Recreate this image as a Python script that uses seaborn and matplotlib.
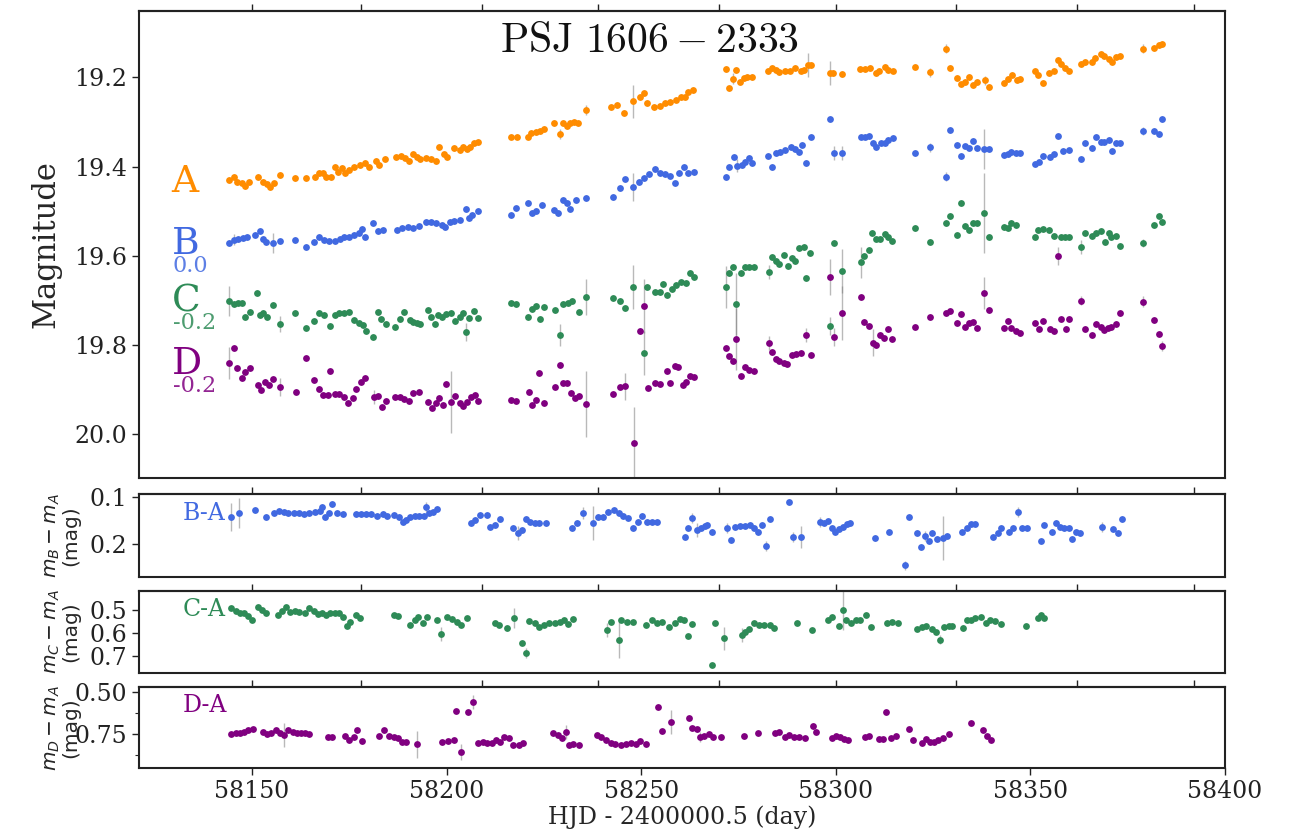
import numpy as np
import pandas as pd
import matplotlib
matplotlib.use('Agg')
import matplotlib.pyplot as plt
import seaborn as sns

# ---- light curves, (HJD - 2400000.5, magnitude) ----
A_OBS = [
    (58144.1, 19.430), (58145.4, 19.423), (58146.1, 19.434), (58147.4, 19.437), (58148.2, 19.443),
    (58149.2, 19.434), (58151.5, 19.423), (58152.8, 19.434), (58153.9, 19.439), (58154.6, 19.446),
    (58155.7, 19.437), (58157.2, 19.419), (58161.0, 19.425), (58163.9, 19.425), (58166.2, 19.423),
    (58167.2, 19.414), (58168.2, 19.414), (58169.0, 19.423), (58170.3, 19.423), (58171.3, 19.401),
    (58172.1, 19.412), (58173.1, 19.403), (58173.9, 19.414), (58174.9, 19.407), (58176.2, 19.401),
    (58177.7, 19.396), (58179.0, 19.392), (58180.1, 19.401), (58181.9, 19.387), (58182.6, 19.396),
    (58184.2, 19.383), (58187.0, 19.378), (58188.3, 19.376), (58189.3, 19.380), (58190.3, 19.387),
    (58191.4, 19.372), (58192.4, 19.378), (58193.2, 19.383), (58194.7, 19.380), (58196.0, 19.383),
    (58197.3, 19.387), (58198.0, 19.356), (58199.3, 19.372), (58200.1, 19.378), (58201.9, 19.358),
    (58203.4, 19.363), (58204.2, 19.356), (58205.2, 19.360), (58206.0, 19.356), (58207.0, 19.347),
    (58208.1, 19.345), (58216.5, 19.333), (58218.1, 19.333), (58220.9, 19.333), (58221.7, 19.324),
    (58223.0, 19.322), (58224.0, 19.320), (58225.0, 19.315), (58227.6, 19.302), (58229.1, 19.327),
    (58229.9, 19.302), (58230.9, 19.309), (58231.7, 19.302), (58232.7, 19.300), (58233.7, 19.302),
    (58235.8, 19.273), (58242.2, 19.266), (58243.8, 19.262), (58245.6, 19.280), (58247.9, 19.253),
    (58249.7, 19.244), (58250.7, 19.235), (58251.5, 19.257), (58253.3, 19.266), (58254.8, 19.264),
    (58256.1, 19.257), (58257.4, 19.255), (58258.9, 19.250), (58260.2, 19.244), (58261.2, 19.244),
    (58262.0, 19.233), (58263.3, 19.228), (58271.8, 19.181), (58272.5, 19.224), (58273.6, 19.203),
    (58274.3, 19.183), (58275.4, 19.210), (58276.4, 19.201), (58277.2, 19.199), (58278.5, 19.199),
    (58282.6, 19.185), (58283.6, 19.179), (58284.6, 19.183), (58285.4, 19.188), (58286.9, 19.185),
    (58288.2, 19.185), (58289.5, 19.179), (58291.0, 19.185), (58291.8, 19.183), (58292.8, 19.172),
    (58293.6, 19.172), (58298.5, 19.190), (58299.3, 19.190), (58301.6, 19.192), (58306.2, 19.181),
    (58307.5, 19.181), (58308.8, 19.179), (58310.3, 19.190), (58311.1, 19.185), (58312.6, 19.176),
    (58313.4, 19.183), (58314.7, 19.185), (58320.3, 19.176), (58324.2, 19.188), (58328.3, 19.136),
    (58329.3, 19.179), (58331.1, 19.201), (58332.1, 19.215), (58333.2, 19.210), (58334.2, 19.199),
    (58335.2, 19.217), (58336.3, 19.210), (58338.3, 19.206), (58339.3, 19.221), (58343.2, 19.212),
    (58344.2, 19.203), (58345.2, 19.194), (58346.5, 19.206), (58347.3, 19.203), (58351.2, 19.185),
    (58351.9, 19.194), (58353.2, 19.212), (58354.7, 19.190), (58356.0, 19.185), (58357.1, 19.161),
    (58357.8, 19.170), (58358.9, 19.179), (58359.9, 19.185), (58363.0, 19.170), (58364.0, 19.165),
    (58365.8, 19.165), (58366.6, 19.156), (58368.1, 19.147), (58368.9, 19.152), (58370.2, 19.159),
    (58370.9, 19.165), (58372.0, 19.154), (58373.0, 19.152), (58378.9, 19.136), (58381.7, 19.134),
    (58383.0, 19.127), (58383.8, 19.125),
]

B_OBS = [
    (58144.1, 19.571), (58145.4, 19.564), (58146.4, 19.562), (58147.7, 19.560), (58148.7, 19.558),
    (58150.8, 19.553), (58152.1, 19.544), (58152.8, 19.562), (58153.6, 19.569), (58155.4, 19.571),
    (58157.2, 19.567), (58161.0, 19.564), (58163.9, 19.580), (58165.9, 19.569), (58167.2, 19.558),
    (58168.5, 19.564), (58169.8, 19.567), (58171.3, 19.567), (58172.6, 19.562), (58173.6, 19.558),
    (58174.9, 19.558), (58176.2, 19.553), (58177.5, 19.549), (58178.3, 19.540), (58179.0, 19.558),
    (58181.1, 19.526), (58182.4, 19.544), (58183.7, 19.542), (58187.3, 19.542), (58188.5, 19.537),
    (58190.1, 19.535), (58191.4, 19.537), (58192.9, 19.533), (58194.7, 19.524), (58196.0, 19.524),
    (58197.3, 19.526), (58198.8, 19.531), (58199.6, 19.535), (58200.9, 19.524), (58201.9, 19.522),
    (58203.4, 19.519), (58205.0, 19.495), (58205.7, 19.515), (58206.5, 19.508), (58208.1, 19.499),
    (58216.5, 19.508), (58217.8, 19.493), (58220.9, 19.481), (58221.9, 19.504), (58223.0, 19.499),
    (58224.5, 19.486), (58227.6, 19.497), (58228.6, 19.504), (58229.9, 19.475), (58230.9, 19.481),
    (58231.7, 19.495), (58233.2, 19.475), (58235.8, 19.470), (58242.7, 19.468), (58244.5, 19.448),
    (58245.8, 19.428), (58247.9, 19.446), (58249.4, 19.434), (58250.7, 19.425), (58252.0, 19.416),
    (58253.5, 19.405), (58254.8, 19.414), (58256.1, 19.416), (58257.4, 19.421), (58258.7, 19.437),
    (58259.7, 19.414), (58261.0, 19.401), (58262.0, 19.414), (58263.6, 19.412), (58271.8, 19.423),
    (58272.5, 19.401), (58273.8, 19.378), (58274.6, 19.398), (58275.9, 19.396), (58276.7, 19.389),
    (58277.7, 19.380), (58278.5, 19.392), (58282.6, 19.376), (58283.6, 19.401), (58284.6, 19.369),
    (58285.6, 19.367), (58286.9, 19.363), (58288.5, 19.356), (58289.5, 19.360), (58290.5, 19.367),
    (58291.3, 19.351), (58292.3, 19.392), (58293.6, 19.333), (58298.5, 19.293), (58299.5, 19.369),
    (58301.6, 19.369), (58306.5, 19.333), (58307.5, 19.333), (58308.5, 19.331), (58309.5, 19.347),
    (58310.3, 19.356), (58311.6, 19.347), (58312.6, 19.347), (58313.4, 19.340), (58314.7, 19.336),
    (58320.3, 19.369), (58324.2, 19.356), (58328.3, 19.423), (58329.3, 19.318), (58331.1, 19.351),
    (58332.1, 19.376), (58333.2, 19.354), (58334.2, 19.358), (58335.2, 19.342), (58336.3, 19.358),
    (58338.1, 19.360), (58339.3, 19.360), (58343.2, 19.374), (58344.2, 19.372), (58345.0, 19.367),
    (58346.3, 19.369), (58347.3, 19.369), (58351.2, 19.394), (58352.2, 19.389), (58353.2, 19.376),
    (58355.0, 19.378), (58356.0, 19.372), (58357.1, 19.331), (58358.4, 19.365), (58359.9, 19.363),
    (58363.0, 19.383), (58364.0, 19.347), (58365.8, 19.358), (58366.8, 19.333), (58368.1, 19.345),
    (58368.9, 19.345), (58370.2, 19.340), (58370.9, 19.365), (58372.0, 19.347), (58373.0, 19.347),
    (58378.9, 19.320), (58381.7, 19.320), (58383.0, 19.327), (58383.8, 19.293),
]

# C and D are drawn with their -0.2 mag offset already applied, as in the figure
C_OBS = [
    (58144.1, 19.701), (58145.4, 19.708), (58146.4, 19.706), (58147.4, 19.706), (58148.2, 19.737),
    (58149.5, 19.726), (58151.3, 19.683), (58152.1, 19.733), (58152.8, 19.728), (58153.9, 19.737),
    (58155.4, 19.710), (58157.2, 19.753), (58161.0, 19.728), (58163.9, 19.762), (58165.9, 19.746),
    (58167.2, 19.728), (58168.5, 19.733), (58170.0, 19.757), (58171.3, 19.733), (58172.4, 19.728),
    (58173.6, 19.728), (58174.9, 19.726), (58176.2, 19.744), (58177.5, 19.750), (58178.5, 19.755),
    (58179.3, 19.768), (58181.1, 19.782), (58182.4, 19.726), (58183.1, 19.742), (58184.4, 19.753),
    (58186.7, 19.759), (58188.0, 19.742), (58189.0, 19.726), (58190.6, 19.744), (58191.4, 19.748),
    (58192.4, 19.750), (58193.2, 19.753), (58195.2, 19.721), (58196.0, 19.737), (58197.0, 19.753),
    (58197.8, 19.733), (58198.8, 19.737), (58199.8, 19.730), (58201.1, 19.728), (58202.2, 19.746),
    (58203.4, 19.737), (58204.2, 19.728), (58205.0, 19.771), (58205.7, 19.739), (58207.0, 19.724),
    (58208.1, 19.739), (58216.5, 19.706), (58217.8, 19.708), (58220.9, 19.737), (58221.9, 19.719),
    (58223.0, 19.712), (58224.0, 19.742), (58225.0, 19.715), (58227.8, 19.721), (58229.1, 19.777),
    (58229.9, 19.708), (58231.2, 19.706), (58232.2, 19.701), (58234.0, 19.726), (58235.8, 19.692),
    (58242.7, 19.694), (58244.5, 19.701), (58245.8, 19.717), (58247.9, 19.670), (58250.7, 19.818),
    (58251.5, 19.670), (58253.5, 19.681), (58254.8, 19.681), (58255.6, 19.663), (58256.6, 19.688),
    (58257.9, 19.674), (58258.9, 19.665), (58260.2, 19.659), (58261.5, 19.661), (58262.5, 19.638),
    (58263.6, 19.647), (58271.8, 19.670), (58272.5, 19.638), (58273.6, 19.625), (58274.3, 19.708),
    (58275.6, 19.638), (58276.7, 19.625), (58277.7, 19.625), (58279.0, 19.625), (58282.8, 19.636),
    (58283.6, 19.602), (58284.6, 19.611), (58285.4, 19.618), (58286.7, 19.598), (58287.7, 19.623),
    (58288.7, 19.605), (58289.5, 19.611), (58290.5, 19.582), (58291.8, 19.580), (58292.3, 19.650),
    (58293.4, 19.593), (58298.5, 19.757), (58299.5, 19.571), (58301.6, 19.634), (58306.5, 19.614),
    (58307.2, 19.600), (58308.5, 19.587), (58309.3, 19.549), (58310.3, 19.562), (58311.3, 19.562),
    (58312.6, 19.551), (58313.4, 19.558), (58314.4, 19.567), (58320.3, 19.537), (58324.2, 19.569),
    (58328.3, 19.526), (58329.3, 19.511), (58331.1, 19.553), (58332.1, 19.481), (58333.2, 19.533),
    (58334.2, 19.542), (58335.2, 19.526), (58336.3, 19.526), (58338.1, 19.504), (58339.3, 19.558),
    (58343.2, 19.535), (58344.2, 19.537), (58345.0, 19.526), (58346.3, 19.531), (58351.2, 19.558),
    (58351.9, 19.542), (58353.2, 19.540), (58354.7, 19.542), (58356.0, 19.555), (58357.8, 19.558),
    (58358.9, 19.558), (58359.9, 19.558), (58363.0, 19.580), (58364.0, 19.549), (58365.8, 19.555),
    (58366.8, 19.549), (58368.1, 19.544), (58369.1, 19.569), (58370.2, 19.549), (58370.7, 19.558),
    (58372.0, 19.555), (58373.0, 19.578), (58378.9, 19.571), (58381.7, 19.531), (58383.0, 19.511),
    (58383.8, 19.524),
]

D_OBS = [
    (58144.1, 19.840), (58145.4, 19.806), (58146.1, 19.851), (58147.4, 19.874), (58148.2, 19.860),
    (58149.5, 19.851), (58151.5, 19.889), (58152.3, 19.901), (58153.3, 19.883), (58154.4, 19.889),
    (58155.4, 19.876), (58157.2, 19.894), (58161.3, 19.905), (58163.9, 19.829), (58165.9, 19.878),
    (58167.2, 19.898), (58168.2, 19.912), (58169.5, 19.912), (58170.0, 19.858), (58171.3, 19.910),
    (58172.4, 19.910), (58173.6, 19.916), (58174.7, 19.930), (58175.9, 19.919), (58176.7, 19.898),
    (58178.0, 19.883), (58179.0, 19.874), (58181.3, 19.916), (58182.4, 19.914), (58183.4, 19.939),
    (58184.4, 19.925), (58186.7, 19.916), (58188.0, 19.916), (58189.0, 19.921), (58190.3, 19.925),
    (58191.4, 19.907), (58192.9, 19.905), (58195.2, 19.928), (58196.2, 19.941), (58197.3, 19.930),
    (58198.0, 19.919), (58199.1, 19.934), (58199.8, 19.887), (58201.1, 19.928), (58202.2, 19.914),
    (58203.4, 19.930), (58204.2, 19.937), (58205.2, 19.928), (58206.3, 19.916), (58207.3, 19.912),
    (58208.1, 19.925), (58216.5, 19.923), (58217.8, 19.925), (58221.2, 19.905), (58221.9, 19.934),
    (58223.0, 19.923), (58223.7, 19.862), (58225.0, 19.930), (58227.8, 19.894), (58229.1, 19.845),
    (58229.9, 19.885), (58230.9, 19.885), (58232.0, 19.907), (58233.0, 19.919), (58234.0, 19.914),
    (58235.8, 19.932), (58242.7, 19.910), (58244.5, 19.894), (58245.8, 19.892), (58248.1, 20.019),
    (58249.7, 19.768), (58250.7, 19.712), (58251.7, 19.896), (58253.5, 19.885), (58254.8, 19.887),
    (58256.6, 19.858), (58257.4, 19.885), (58258.7, 19.847), (58259.4, 19.849), (58260.7, 19.889),
    (58261.5, 19.883), (58262.5, 19.869), (58263.6, 19.871), (58271.8, 19.806), (58272.5, 19.824),
    (58273.6, 19.836), (58274.3, 19.786), (58275.6, 19.869), (58276.7, 19.849), (58277.7, 19.856),
    (58279.0, 19.858), (58282.8, 19.795), (58283.6, 19.815), (58284.6, 19.831), (58285.4, 19.836),
    (58286.7, 19.840), (58287.5, 19.842), (58288.7, 19.822), (58289.8, 19.820), (58291.0, 19.818),
    (58292.3, 19.777), (58293.6, 19.822), (58298.5, 19.647), (58299.5, 19.782), (58301.6, 19.728),
    (58306.5, 19.692), (58307.2, 19.748), (58308.5, 19.757), (58309.5, 19.795), (58310.3, 19.800),
    (58311.3, 19.777), (58312.4, 19.784), (58313.4, 19.764), (58314.4, 19.786), (58320.3, 19.759),
    (58324.2, 19.737), (58328.3, 19.728), (58329.3, 19.724), (58331.1, 19.751), (58332.1, 19.730),
    (58333.2, 19.759), (58334.2, 19.751), (58335.2, 19.748), (58336.3, 19.762), (58338.1, 19.683),
    (58339.3, 19.721), (58343.2, 19.762), (58344.2, 19.746), (58345.0, 19.762), (58346.3, 19.768),
    (58347.3, 19.773), (58351.2, 19.751), (58352.2, 19.764), (58353.2, 19.746), (58355.0, 19.764),
    (58356.0, 19.768), (58357.1, 19.600), (58357.8, 19.742), (58359.1, 19.764), (58359.9, 19.742),
    (58363.0, 19.701), (58364.0, 19.764), (58365.8, 19.777), (58366.8, 19.753), (58368.1, 19.759),
    (58368.9, 19.766), (58369.9, 19.762), (58370.7, 19.759), (58372.0, 19.753), (58373.0, 19.728),
    (58378.9, 19.703), (58381.7, 19.744), (58383.0, 19.775), (58383.8, 19.802),
]

# ---- difference curves ----
BA_OBS = [
    (58144.6, 0.143), (58146.7, 0.134), (58150.8, 0.128), (58153.6, 0.143), (58155.7, 0.134),
    (58156.9, 0.130), (58158.2, 0.132), (58159.2, 0.134), (58160.8, 0.134), (58162.1, 0.134),
    (58163.4, 0.136), (58164.6, 0.134), (58166.2, 0.132), (58167.5, 0.130), (58168.0, 0.121),
    (58168.8, 0.143), (58169.8, 0.134), (58170.6, 0.115), (58171.8, 0.134), (58173.4, 0.136),
    (58176.7, 0.136), (58178.0, 0.136), (58179.3, 0.136), (58180.6, 0.136), (58182.1, 0.140),
    (58183.7, 0.136), (58184.7, 0.140), (58186.5, 0.138), (58187.8, 0.143), (58188.8, 0.153),
    (58189.6, 0.149), (58190.6, 0.143), (58191.9, 0.140), (58192.9, 0.140), (58194.2, 0.140),
    (58194.7, 0.121), (58195.5, 0.134), (58196.5, 0.132), (58197.5, 0.126), (58206.3, 0.155),
    (58207.3, 0.149), (58208.6, 0.138), (58210.4, 0.138), (58211.1, 0.164), (58212.4, 0.160),
    (58213.7, 0.147), (58217.1, 0.166), (58218.3, 0.177), (58219.4, 0.170), (58220.4, 0.147),
    (58221.4, 0.153), (58222.7, 0.155), (58223.7, 0.155), (58225.5, 0.155), (58232.2, 0.166),
    (58233.5, 0.155), (58235.0, 0.134), (58237.6, 0.155), (58238.9, 0.143), (58240.2, 0.143),
    (58241.5, 0.132), (58243.0, 0.128), (58244.3, 0.134), (58245.3, 0.140), (58246.6, 0.145),
    (58247.9, 0.166), (58249.2, 0.153), (58250.2, 0.140), (58251.5, 0.153), (58252.8, 0.153),
    (58254.0, 0.153), (58261.2, 0.185), (58262.0, 0.166), (58263.0, 0.145), (58264.3, 0.170),
    (58265.3, 0.166), (58266.4, 0.162), (58266.9, 0.160), (58268.2, 0.174), (58272.0, 0.166),
    (58273.1, 0.192), (58274.1, 0.164), (58275.4, 0.162), (58276.7, 0.162), (58277.9, 0.160),
    (58279.0, 0.166), (58280.0, 0.174), (58281.0, 0.160), (58282.0, 0.204), (58283.1, 0.147),
    (58288.0, 0.111), (58289.0, 0.185), (58291.0, 0.185), (58295.9, 0.153), (58296.9, 0.155),
    (58298.0, 0.151), (58299.0, 0.166), (58299.8, 0.174), (58300.8, 0.168), (58301.8, 0.164),
    (58302.9, 0.157), (58303.6, 0.155), (58310.1, 0.187), (58313.6, 0.174), (58317.8, 0.245),
    (58318.8, 0.143), (58320.8, 0.177), (58321.9, 0.206), (58322.9, 0.183), (58323.9, 0.194),
    (58324.7, 0.177), (58326.0, 0.189), (58327.5, 0.187), (58328.5, 0.183), (58332.4, 0.174),
    (58333.7, 0.166), (58334.7, 0.157), (58335.7, 0.157), (58340.4, 0.185), (58341.7, 0.177),
    (58342.4, 0.166), (58344.5, 0.174), (58345.5, 0.166), (58346.8, 0.132), (58347.8, 0.166),
    (58349.1, 0.166), (58352.7, 0.194), (58353.5, 0.160), (58355.5, 0.174), (58356.6, 0.155),
    (58357.6, 0.164), (58358.6, 0.166), (58359.9, 0.166), (58360.7, 0.189), (58361.7, 0.174),
    (58362.7, 0.177), (58368.4, 0.164), (58371.2, 0.168), (58372.5, 0.177), (58373.5, 0.147),
]

CA_OBS = [
    (58144.6, 0.491), (58145.9, 0.504), (58146.9, 0.513), (58147.9, 0.513), (58149.0, 0.526),
    (58150.0, 0.543), (58151.5, 0.487), (58152.6, 0.500), (58153.6, 0.513), (58156.7, 0.522),
    (58157.7, 0.504), (58158.7, 0.487), (58159.8, 0.509), (58161.0, 0.504), (58162.1, 0.509),
    (58163.6, 0.513), (58164.6, 0.491), (58165.9, 0.504), (58167.0, 0.517), (58168.0, 0.513),
    (58169.0, 0.522), (58170.0, 0.513), (58171.3, 0.513), (58172.4, 0.513), (58173.4, 0.530),
    (58174.4, 0.570), (58175.2, 0.552), (58176.7, 0.522), (58177.7, 0.535), (58186.5, 0.522),
    (58187.5, 0.526), (58190.6, 0.565), (58191.9, 0.543), (58192.6, 0.530), (58193.9, 0.557),
    (58195.0, 0.530), (58197.5, 0.543), (58198.6, 0.604), (58200.1, 0.530), (58201.4, 0.539),
    (58202.7, 0.552), (58203.7, 0.565), (58205.2, 0.535), (58212.4, 0.557), (58213.5, 0.565),
    (58215.5, 0.578), (58217.3, 0.535), (58219.4, 0.643), (58220.4, 0.687), (58221.2, 0.548),
    (58222.7, 0.557), (58223.7, 0.574), (58225.0, 0.565), (58226.3, 0.557), (58227.8, 0.557),
    (58229.1, 0.552), (58230.2, 0.543), (58231.2, 0.561), (58232.5, 0.539), (58241.2, 0.587),
    (58242.2, 0.552), (58244.3, 0.630), (58244.8, 0.543), (58246.3, 0.552), (58247.9, 0.552),
    (58251.2, 0.565), (58252.8, 0.543), (58254.1, 0.557), (58255.3, 0.552), (58257.1, 0.574),
    (58258.7, 0.557), (58260.0, 0.539), (58261.0, 0.543), (58262.0, 0.613), (58263.0, 0.561),
    (58268.2, 0.739), (58269.0, 0.557), (58271.3, 0.622), (58275.9, 0.609), (58276.7, 0.596),
    (58277.7, 0.583), (58279.0, 0.557), (58280.3, 0.565), (58281.5, 0.565), (58283.1, 0.565),
    (58284.1, 0.578), (58290.0, 0.557), (58293.9, 0.587), (58298.0, 0.543), (58299.0, 0.530),
    (58300.8, 0.570), (58301.8, 0.500), (58302.6, 0.543), (58303.9, 0.557), (58305.2, 0.543),
    (58306.2, 0.543), (58307.8, 0.522), (58309.0, 0.574), (58313.2, 0.557), (58314.4, 0.552),
    (58316.0, 0.557), (58320.9, 0.583), (58322.1, 0.574), (58323.2, 0.570), (58324.7, 0.583),
    (58325.7, 0.596), (58326.8, 0.630), (58327.8, 0.574), (58329.1, 0.570), (58329.8, 0.570),
    (58332.7, 0.578), (58333.7, 0.543), (58334.7, 0.543), (58335.7, 0.535), (58337.3, 0.530),
    (58338.6, 0.557), (58339.6, 0.543), (58340.9, 0.548), (58342.4, 0.561), (58348.8, 0.570),
    (58351.9, 0.535), (58352.7, 0.522), (58353.5, 0.535),
]

DA_OBS = [
    (58144.6, 0.750), (58145.9, 0.744), (58146.9, 0.744), (58147.9, 0.738), (58149.0, 0.726),
    (58150.3, 0.720), (58152.8, 0.738), (58153.9, 0.750), (58154.9, 0.744), (58156.2, 0.726),
    (58157.2, 0.744), (58158.2, 0.756), (58159.2, 0.726), (58160.5, 0.738), (58161.6, 0.744),
    (58162.6, 0.744), (58163.6, 0.744), (58164.6, 0.750), (58169.5, 0.768), (58170.6, 0.768),
    (58173.9, 0.762), (58174.9, 0.786), (58176.2, 0.768), (58177.0, 0.726), (58178.3, 0.792),
    (58182.6, 0.762), (58183.9, 0.726), (58185.2, 0.762), (58186.5, 0.768), (58187.5, 0.774),
    (58188.5, 0.798), (58189.6, 0.798), (58192.4, 0.810), (58198.8, 0.798), (58200.4, 0.792),
    (58201.9, 0.786), (58202.4, 0.613), (58203.7, 0.857), (58205.5, 0.619), (58206.8, 0.560),
    (58208.1, 0.804), (58209.3, 0.798), (58210.4, 0.804), (58211.7, 0.804), (58212.7, 0.786),
    (58213.7, 0.798), (58214.7, 0.768), (58216.0, 0.774), (58217.1, 0.815), (58218.6, 0.815),
    (58219.6, 0.804), (58227.3, 0.744), (58228.6, 0.756), (58229.6, 0.774), (58230.7, 0.738),
    (58231.4, 0.815), (58232.5, 0.810), (58234.0, 0.815), (58238.6, 0.756), (58239.7, 0.768),
    (58240.9, 0.786), (58242.2, 0.804), (58243.3, 0.810), (58244.8, 0.815), (58246.1, 0.810),
    (58247.4, 0.804), (58248.6, 0.810), (58249.7, 0.792), (58251.2, 0.810), (58254.3, 0.589),
    (58255.3, 0.732), (58257.6, 0.679), (58262.3, 0.655), (58263.0, 0.714), (58264.3, 0.720),
    (58265.1, 0.768), (58266.1, 0.762), (58267.4, 0.750), (58268.4, 0.768), (58270.5, 0.768),
    (58276.4, 0.762), (58280.0, 0.744), (58284.4, 0.744), (58285.4, 0.738), (58286.9, 0.768),
    (58288.0, 0.756), (58289.2, 0.768), (58290.5, 0.768), (58292.1, 0.774), (58294.1, 0.702),
    (58294.9, 0.738), (58299.0, 0.774), (58300.0, 0.762), (58301.1, 0.768), (58302.1, 0.780),
    (58303.1, 0.786), (58307.5, 0.768), (58308.5, 0.762), (58311.1, 0.780), (58312.1, 0.780),
    (58312.9, 0.619), (58314.2, 0.774), (58315.4, 0.762), (58318.8, 0.720), (58319.8, 0.786),
    (58322.1, 0.804), (58323.2, 0.780), (58324.2, 0.798), (58325.2, 0.798), (58326.2, 0.786),
    (58327.5, 0.774), (58329.1, 0.750), (58334.7, 0.685), (58337.8, 0.726), (58338.8, 0.762),
    (58339.9, 0.786),
]

# ---- error bars: a typical error per curve plus the epochs with long bars ----
TYPICAL_ERR = {'A': 0.006, 'B': 0.006, 'C': 0.007, 'D': 0.007, 'BA': 0.006, 'CA': 0.010, 'DA': 0.015}
A_BIG_ERR = {58229.1: 0.012, 58235.8: 0.012, 58247.9: 0.037, 58273.6: 0.012, 58292.8: 0.028,
             58298.5: 0.026, 58324.2: 0.010, 58328.3: 0.010, 58338.3: 0.010, 58378.9: 0.010}
B_BIG_ERR = {58145.4: 0.012, 58155.4: 0.023, 58229.1: 0.015, 58247.9: 0.032, 58274.6: 0.015,
             58299.5: 0.015, 58301.6: 0.015, 58338.1: 0.045, 58324.2: 0.010, 58328.3: 0.010,
             58378.9: 0.010}
C_BIG_ERR = {58144.1: 0.033, 58157.2: 0.018, 58205.0: 0.020, 58229.1: 0.024, 58235.8: 0.040,
             58247.9: 0.050, 58250.7: 0.050, 58271.8: 0.047, 58274.3: 0.070, 58282.8: 0.015,
             58298.5: 0.020, 58301.6: 0.050, 58306.5: 0.035, 58338.1: 0.090, 58363.0: 0.015,
             58378.9: 0.010}
D_BIG_ERR = {58144.1: 0.035, 58157.2: 0.020, 58181.3: 0.015, 58201.1: 0.070, 58235.8: 0.075,
             58245.8: 0.030, 58248.1: 0.080, 58250.7: 0.060, 58274.3: 0.070, 58282.8: 0.015,
             58292.3: 0.015, 58298.5: 0.040, 58299.5: 0.020, 58301.6: 0.060, 58309.5: 0.030,
             58338.1: 0.035, 58357.1: 0.020, 58363.0: 0.010, 58378.9: 0.012, 58383.8: 0.012}
BA_BIG_ERR = {58144.6: 0.030, 58146.7: 0.032, 58194.7: 0.010, 58218.3: 0.015, 58235.0: 0.012,
              58237.6: 0.036, 58263.0: 0.010, 58264.3: 0.015, 58272.0: 0.010, 58282.0: 0.010,
              58289.0: 0.010, 58291.0: 0.023, 58295.9: 0.010, 58317.8: 0.010, 58322.9: 0.010,
              58327.5: 0.046, 58346.8: 0.010, 58368.4: 0.010}
CA_BIG_ERR = {58198.6: 0.030, 58215.5: 0.012, 58217.3: 0.045, 58220.4: 0.020, 58241.2: 0.030,
              58244.3: 0.080, 58271.3: 0.050, 58275.9: 0.030, 58301.8: 0.087, 58326.8: 0.020,
              58332.7: 0.015}
DA_BIG_ERR = {58158.2: 0.070, 58192.4: 0.080, 58203.7: 0.050, 58206.8: 0.040, 58230.7: 0.040,
              58254.3: 0.020, 58257.6: 0.070, 58265.1: 0.030, 58294.1: 0.020}

COLORS = {'A': 'darkorange', 'B': 'royalblue', 'C': 'seagreen', 'D': 'purple'}
MONTH_STARTS = [58150, 58178, 58209, 58239, 58270, 58300, 58331, 58362, 58392]  # 1st of Feb..Oct 2018
X_TICKS = [58150, 58200, 58250, 58300, 58350, 58400]


def make_frame(obs, big_err, typical):
    df = pd.DataFrame(obs, columns=['day', 'mag'])
    df['err'] = [big_err.get(d, typical) for d in df['day']]
    return df


def draw_curve(ax, df, color):
    ax.errorbar(df['day'], df['mag'], yerr=df['err'], fmt='none', ecolor='gray',
                elinewidth=1.0, alpha=0.55, zorder=1)
    sns.scatterplot(data=df, x='day', y='mag', color=color, s=24, linewidth=0,
                    ax=ax, zorder=2, legend=False)


def style_axis(ax, ylim, yticks):
    ax.set_xlim(58121, 58400)
    ax.set_ylim(*ylim)
    ax.set_yticks(yticks)
    ax.set_xlabel('')
    ax.set_ylabel('')
    for sp in ax.spines.values():
        sp.set_visible(True)
        sp.set_linewidth(1.5)
        sp.set_color('#222222')
    ax.tick_params(axis='both', direction='out', length=5, width=1, labelsize=17,
                   colors='#222222', top=False, right=False)
    top = ax.secondary_xaxis('top')
    top.set_xticks(MONTH_STARTS)
    top.set_xticklabels([])
    top.tick_params(direction='out', length=5, width=1, colors='#222222')
    top.spines['top'].set_linewidth(1.5)


sns.set_style('ticks')
plt.rcParams['font.family'] = ['DejaVu Serif']

fig = plt.figure(figsize=(12.91, 8.36), dpi=100)
ax_top = fig.add_axes([0.1077, 0.4282, 0.8412, 0.5586])
ax_ba = fig.add_axes([0.1077, 0.3098, 0.8412, 0.0993])
ax_ca = fig.add_axes([0.1077, 0.1950, 0.8412, 0.0981])
ax_da = fig.add_axes([0.1077, 0.0813, 0.8412, 0.0969])

# ---- top panel: light curves ----
for key, obs, big in [('A', A_OBS, A_BIG_ERR), ('B', B_OBS, B_BIG_ERR),
                      ('C', C_OBS, C_BIG_ERR), ('D', D_OBS, D_BIG_ERR)]:
    draw_curve(ax_top, make_frame(obs, big, TYPICAL_ERR[key]), COLORS[key])
style_axis(ax_top, (20.098, 19.051), [19.2, 19.4, 19.6, 19.8, 20.0])
ax_top.set_yticklabels(['19.2', '19.4', '19.6', '19.8', '20.0'])
ax_top.tick_params(axis='x', bottom=False, labelbottom=False)
ax_top.set_ylabel('Magnitude', fontsize=22)
ax_top.yaxis.set_label_coords(-0.071, 0.5)
ax_top.text(0.4705, 0.912, r'$\mathrm{PSJ\ 1606} - \mathrm{2333}$', transform=ax_top.transAxes,
            ha='center', va='baseline', fontsize=30, math_fontfamily='cm', color='#111111')

# image names and their offsets
for name, ypos, off, yoff in [('A', 19.456, None, None), ('B', 19.595, '0.0', 19.637),
                              ('C', 19.725, '-0.2', 19.765), ('D', 19.864, '-0.2', 19.906)]:
    ax_top.text(58129.4, ypos, name, color=COLORS[name], fontsize=27, va='baseline', ha='left')
    if off is not None:
        ax_top.text(58129.6, yoff, off, color=COLORS[name], fontsize=16, va='baseline',
                    ha='left', alpha=0.85)

# ---- difference panels ----
diff_panels = [
    (ax_ba, BA_OBS, BA_BIG_ERR, 'BA', 'B', 'B-A', (0.270, 0.0936), [0.1, 0.2], ['0.1', '0.2'], r'$m_B - m_A$'),
    (ax_ca, CA_OBS, CA_BIG_ERR, 'CA', 'C', 'C-A', (0.774, 0.417), [0.5, 0.6, 0.7], ['0.5', '0.6', '0.7'], r'$m_C - m_A$'),
    (ax_da, DA_OBS, DA_BIG_ERR, 'DA', 'D', 'D-A', (0.952, 0.470), [0.5, 0.75], ['0.50', '0.75'], r'$m_D - m_A$'),
]
for ax, obs, big, key, img, label, ylim, yticks, yticklabels, ylab in diff_panels:
    draw_curve(ax, make_frame(obs, big, TYPICAL_ERR[key]), COLORS[img])
    style_axis(ax, ylim, yticks)
    ax.set_yticklabels(yticklabels)
    ax.text(0.040, 0.69, label, transform=ax.transAxes, color=COLORS[img], fontsize=17,
            va='baseline', ha='left')
    ax.set_ylabel(ylab + '\n(mag)', fontsize=14.5, family='DejaVu Sans',
                  math_fontfamily='dejavusans', linespacing=0.95)
    ax.yaxis.set_label_coords(-0.054, 0.5)

ax_da.set_yticks([0.625, 0.875], minor=True)
ax_da.tick_params(axis='y', which='minor', length=3, width=0.8, direction='out')

for ax in (ax_ba, ax_ca):
    ax.tick_params(axis='x', bottom=False, labelbottom=False)

ax_da.set_xticks(X_TICKS)
ax_da.set_xticklabels([str(t) for t in X_TICKS])
ax_da.set_xlabel('HJD - 2400000.5 (day)', fontsize=17, labelpad=2)

fig.savefig('out.png', dpi=100)
